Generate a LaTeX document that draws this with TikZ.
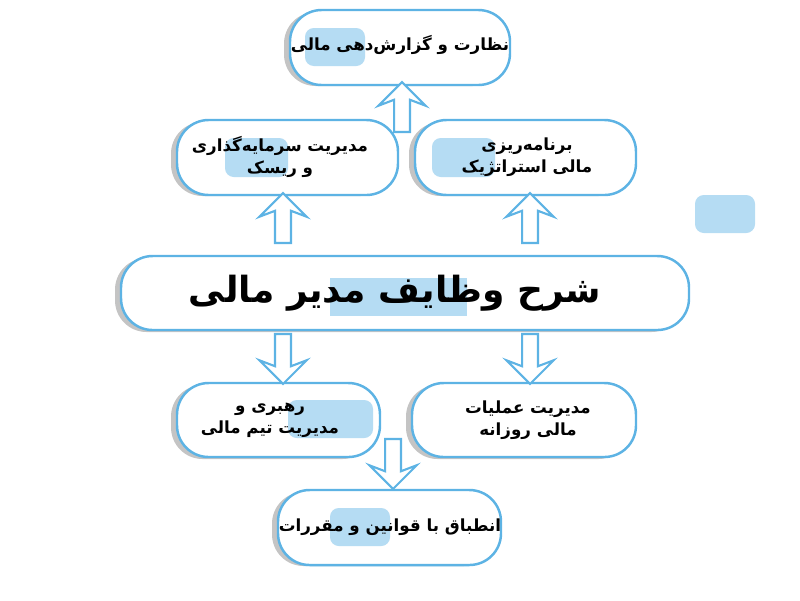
\documentclass[tikz,border=0pt]{standalone}
\usepackage{fontspec}
\newfontfamily\arabicfont[Script=Arabic]{DejaVu Sans}
\TeXXeTstate=1
\usetikzlibrary{shapes.arrows}
\definecolor{edgeblue}{HTML}{5DB3E4}
\definecolor{markblue}{HTML}{B5DCF3}
\definecolor{shade}{HTML}{C4C4C4}
\tikzset{
  x=0.02cm, y=-0.02cm,
  duty/.style={rectangle, rounded corners=18pt, draw=edgeblue, line width=1.4pt, fill=white, align=center, font=\arabicfont\bfseries\fontsize{9.5}{12.5}\selectfont},
  dutytext/.style={duty, draw=none, fill=none},
  hilite/.style={fill=markblue, rounded corners=5pt},
  ghost/.style={fill=shade, rounded corners=18pt},
  upar/.style={single arrow, draw=edgeblue, line width=1.2pt, fill=white, minimum height=1cm, minimum width=0.95cm, inner sep=0.13cm, single arrow head extend=0.3cm, single arrow head indent=0.12cm, shape border rotate=90},
  downar/.style={upar, shape border rotate=270}
}
\newcommand{\rl}[1]{\beginR #1\endR}
\begin{document}
\begin{tikzpicture}
\useasboundingbox (0,0) rectangle (800,600);
% shadows
\fill[ghost] (284,12) rectangle (504,86);
\fill[ghost] (171,122) rectangle (392,196);
\fill[ghost] (409,122) rectangle (630,196);
\fill[ghost] (115,258) rectangle (683,332);
\fill[ghost] (171,385) rectangle (374,459);
\fill[ghost] (406,385) rectangle (630,459);
\fill[ghost] (272,492) rectangle (495,566);
% boxes
\draw[duty] (290,10) rectangle (510,85);
\draw[duty] (177,120) rectangle (398,195);
\draw[duty] (415,120) rectangle (636,195);
\draw[duty] (121,256) rectangle (689,330);
\draw[duty] (177,383) rectangle (380,457);
\draw[duty] (412,383) rectangle (636,457);
\draw[duty] (278,490) rectangle (501,565);
% highlights
\fill[hilite] (305,28) rectangle (365,66);
\fill[hilite] (225,138) rectangle (288,177);
\fill[hilite] (432,138) rectangle (495,177);
\fill[markblue] (330,278) rectangle (467,316);
\fill[hilite] (288,400) rectangle (373,438);
\fill[hilite] (330,508) rectangle (390,546);
\fill[hilite] (695,195) rectangle (755,233);
% texts
\node[dutytext] (report) at (400,45) {\rl{نظارت و گزارش‌دهی مالی}};
\node[dutytext] (invest) at (280,157) {\rl{مدیریت سرمایه‌گذاری}\\\rl{و ریسک}};
\node[dutytext] (plan) at (527,157) {\rl{برنامه‌ریزی}\\\rl{مالی استراتژیک}};
\node[dutytext, font=\arabicfont\bfseries\fontsize{20.5}{24}\selectfont] (main) at (395,293) {\rl{شرح وظایف مدیر مالی}};
\node[dutytext] (team) at (270,420) {\rl{رهبری و}\\\rl{مدیریت تیم مالی}};
\node[dutytext] (ops) at (528,420) {\rl{مدیریت عملیات}\\\rl{مالی روزانه}};
\node[dutytext] (law) at (390,527) {\rl{انطباق با قوانین و مقررات}};
% arrows
\node[upar] (a1) at (402,111) {};
\node[upar] (a2) at (283,222) {};
\node[upar] (a3) at (530,222) {};
\node[downar] (a4) at (283,355) {};
\node[downar] (a5) at (530,355) {};
\node[downar] (a6) at (393,460) {};
\end{tikzpicture}
\end{document}
